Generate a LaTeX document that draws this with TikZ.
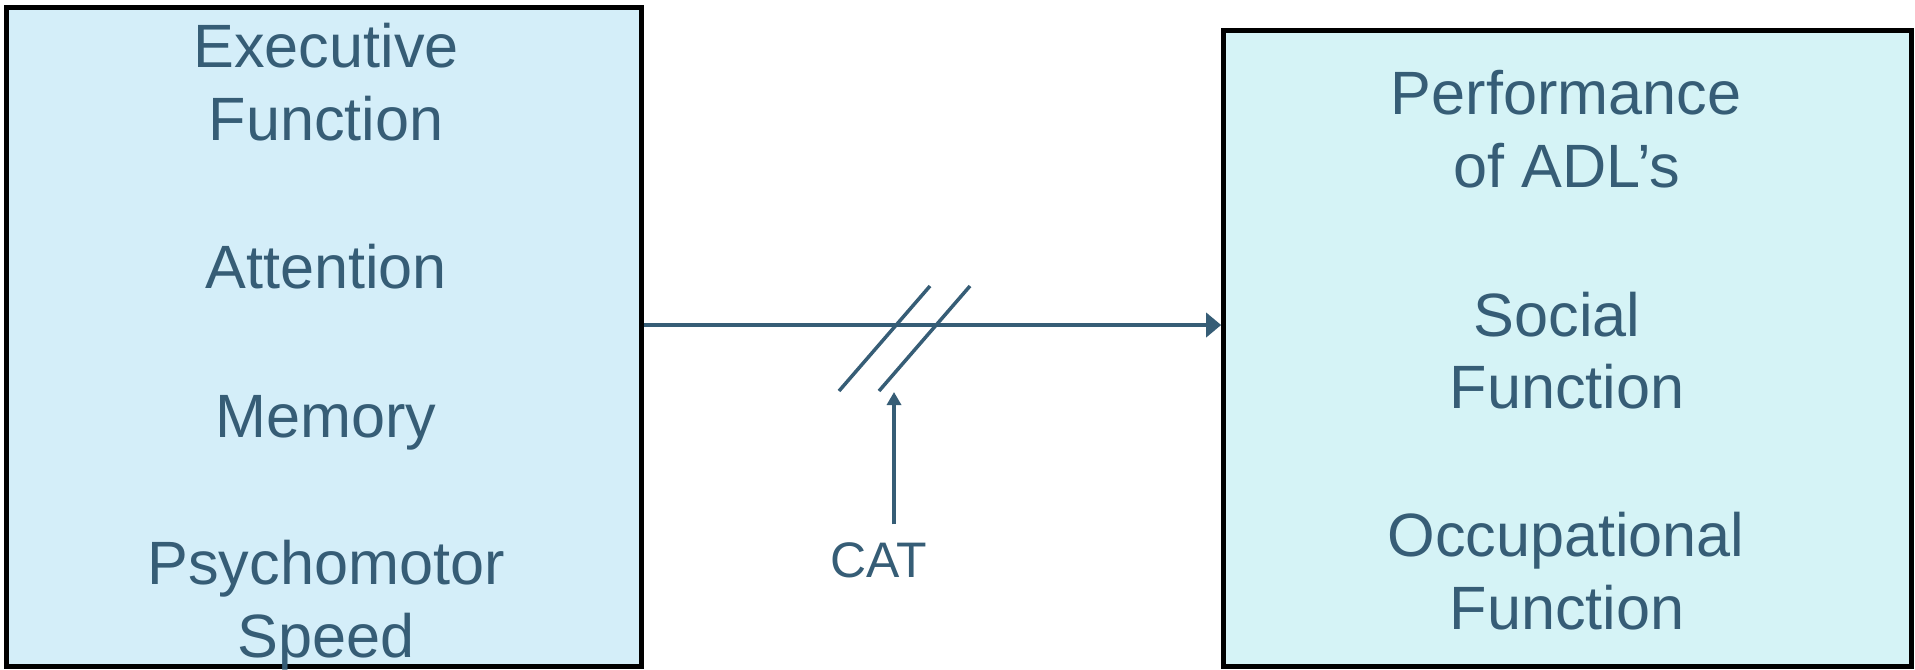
\documentclass[tikz,border=0pt]{standalone}
\usepackage{fontspec}
\setmainfont{Liberation Sans}
\usetikzlibrary{arrows.meta, positioning}
\definecolor{colortext}{RGB}{54, 93, 118}
\definecolor{colorleft}{RGB}{212, 238, 249}
\definecolor{colorright}{RGB}{213, 243, 246}
\tikzstyle{areabox} = [rectangle, draw=black, line width=1.5pt, inner sep=0pt]
\tikzstyle{itemtext} = [text=colortext, font=\fontsize{17.4}{20.7}\selectfont, anchor=base, inner sep=0pt]
\tikzstyle{cattext} = [text=colortext, font=\fontsize{14.2}{16}\selectfont, anchor=base, inner xsep=0pt, inner ysep=0.17cm]
\tikzstyle{arrow} = [line width=1.25pt, draw=colortext, -{Triangle[length=0.15cm, width=0.24cm, fill=colortext]}]
\tikzstyle{catarrow} = [line width=1pt, draw=colortext, -{Triangle[length=0.13cm, width=0.14cm, fill=colortext]}]
\tikzstyle{breakmark} = [line width=1pt, draw=colortext]

\begin{document}
\begin{tikzpicture}[x=0.01cm, y=-0.01cm]
\useasboundingbox (0,0) rectangle (1915,669);

% Boxes
\node (cog) [areabox, fill=colorleft, minimum width=6.34cm, minimum height=6.59cm] at (324,337) {};
\node (perf) [areabox, fill=colorright, minimum width=6.87cm, minimum height=6.35cm] at (1567.5,348.5) {};

% Left box text
\node (exec) [itemtext] at (326,67) {Executive};
\node (func1) [itemtext] at (326,140) {Function};
\node (attn) [itemtext] at (326,288) {Attention};
\node (mem) [itemtext] at (326,437) {Memory};
\node (psycho) [itemtext] at (326,584) {Psychomotor};
\node (speed) [itemtext] at (326,657) {Speed};

% Right box text
\node (perfo) [itemtext] at (1566,114) {Performance};
\node (adl) [itemtext] at (1567,187) {of ADL’s};
\node (social) [itemtext] at (1557,336) {Social};
\node (func2) [itemtext] at (1567,408) {Function};
\node (occ) [itemtext] at (1566,556) {Occupational};
\node (func3) [itemtext] at (1567,629) {Function};

% Moderator
\node (cat) [cattext] at (879,577) {CAT};
\coordinate (link) at (0,325);
\coordinate (brk) at (894,392);

% Arrows
\draw [arrow] (cog.east |- link) -- (perf.west |- link);
\draw [catarrow] (cat.north -| brk) -- (brk);

% Break marks
\draw [breakmark] (839,391) -- (930,286);
\draw [breakmark] (879,391) -- (970,286);

\end{tikzpicture}
\end{document}
